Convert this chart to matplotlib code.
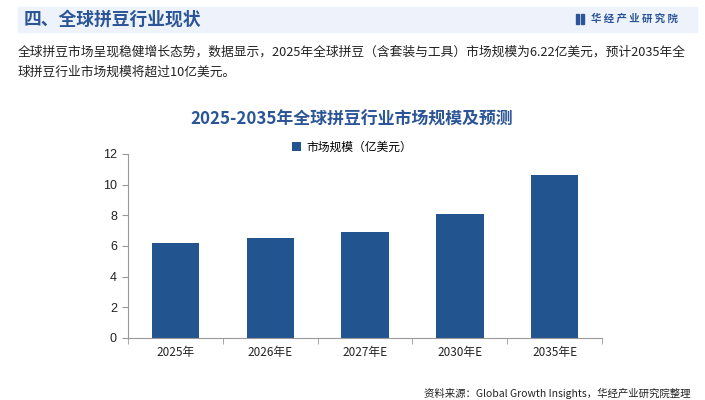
import matplotlib.pyplot as plt
from matplotlib.patches import Rectangle

plt.rcParams['font.family'] = ['Noto Sans CJK SC', 'DejaVu Sans']

categories = ["2025年", "2026年E", "2027年E", "2030年E", "2035年E"]
market_size = [6.22, 6.52, 6.91, 8.09, 10.63]
y_ticks = [0, 2, 4, 6, 8, 10, 12]

header = "四、全球拼豆行业现状"
intro_1 = "全球拼豆市场呈现稳健增长态势，数据显示，2025年全球拼豆（含套装与工具）市场规模为6.22亿美元，预计2035年全"
intro_2 = "球拼豆行业市场规模将超过10亿美元。"
chart_title = "2025-2035年全球拼豆行业市场规模及预测"
series_name = "市场规模（亿美元）"
source = "资料来源：Global Growth Insights，华经产业研究院整理"

bar_color = "#22548f"
head_color = "#2b5597"

fig = plt.figure(figsize=(7.05, 4.0), dpi=100)
W, H = 705, 400

def fx(px):
    return px / W

def fy(py):
    return 1 - py / H

# header band
fig.patches.append(Rectangle((fx(18), fy(32)), fx(697) - fx(18), fy(7) - fy(32),
                             transform=fig.transFigure, color="#eef3fb", zorder=0))
fig.text(fx(24), fy(19.5), header, fontsize=12.8, fontweight="bold",
         color=head_color, va="center")
fig.patches.append(Rectangle((fx(576), fy(24)), fx(3) - fx(0), fy(14) - fy(24),
                             transform=fig.transFigure, color=head_color))
fig.patches.append(Rectangle((fx(581), fy(24)), fx(3) - fx(0), fy(14) - fy(24),
                             transform=fig.transFigure, color=head_color))
fig.text(fx(591), fy(19), "华 经 产 业 研 究 院", fontsize=7.5, fontweight="bold",
         color=head_color, va="center")

fig.text(fx(18), fy(52), intro_1, fontsize=9.2, color="#222222", va="center")
fig.text(fx(18), fy(72), intro_2, fontsize=9.2, color="#222222", va="center")

fig.text(fx(352), fy(120), chart_title, fontsize=12.2, fontweight="bold",
         color=head_color, ha="center", va="center")

ax = fig.add_axes([fx(128), fy(338), fx(602) - fx(128), fy(154) - fy(338)])
ax.set_facecolor("none")
x = range(len(categories))
bars = ax.bar(x, market_size, width=0.5, color=bar_color, label=series_name)

ax.set_xlim(-0.5, len(categories) - 0.5)
ax.set_ylim(0, 12)
ax.set_yticks(y_ticks)
ax.set_yticklabels([str(t) for t in y_ticks], fontsize=9, color="#222222",
                   family=["Liberation Sans", "DejaVu Sans"])
ax.set_xticks(list(x))
ax.set_xticklabels(categories, fontsize=8.5, color="#222222")
ax.set_xticks([i - 0.5 for i in range(len(categories) + 1)], minor=True)
ax.tick_params(axis="x", which="major", length=0, pad=6)
ax.tick_params(axis="x", which="minor", length=4, color="#999999", direction="out")
ax.tick_params(axis="y", length=4, color="#999999", direction="out", pad=4)

for s in ["top", "right"]:
    ax.spines[s].set_visible(False)
for s in ["left", "bottom"]:
    ax.spines[s].set_color("#999999")
    ax.spines[s].set_linewidth(0.8)

ax.legend(loc="center", bbox_to_anchor=(fx(352), fy(147)), bbox_transform=fig.transFigure,
          frameon=False, fontsize=8.5, handlelength=0.8, handleheight=0.8,
          handletextpad=0.4)

fig.text(fx(690), fy(393), source, fontsize=7.5, color="#222222", ha="right", va="center")

fig.savefig("out.png", dpi=100)
